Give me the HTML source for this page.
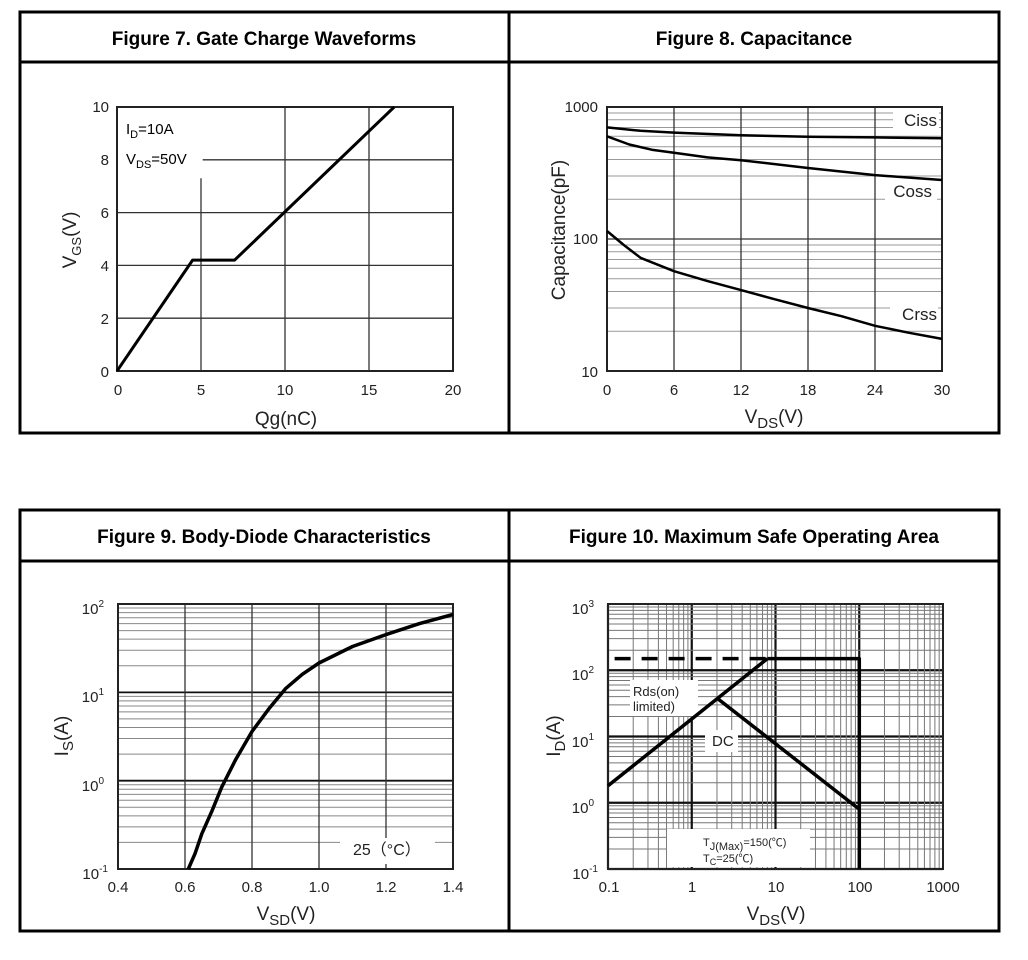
<!DOCTYPE html>
<html><head><meta charset="utf-8"><style>
html,body{margin:0;padding:0;background:#fff;}
svg{display:block;font-family:"Liberation Sans","Noto Sans CJK SC",sans-serif;}
.t{font-weight:bold;font-size:19px;text-anchor:middle;}
.tk{font-size:15px;fill:#222;}
.ax{font-size:19px;fill:#222;}
</style></head><body>
<svg id="s" width="1028" height="960" viewBox="0 0 1028 960" xmlns="http://www.w3.org/2000/svg">
<g id="grid"></g>
<!-- tables -->
<g fill="none" stroke="#000" stroke-width="3">
<rect x="20" y="12" width="979" height="421"/>
<line x1="20" y1="62" x2="999" y2="62"/>
<line x1="509" y1="12" x2="509" y2="433"/>
<rect x="20" y="510" width="979" height="421"/>
<line x1="20" y1="561" x2="999" y2="561"/>
<line x1="509" y1="510" x2="509" y2="931"/>
</g>
<text class="t" x="264" y="45">Figure 7. Gate Charge Waveforms</text>
<text class="t" x="754" y="45">Figure 8. Capacitance</text>
<text class="t" x="264" y="543">Figure 9. Body-Diode Characteristics</text>
<text class="t" x="754" y="543">Figure 10. Maximum Safe Operating Area</text>

<!-- chart1 labels -->
<g class="tk" text-anchor="end">
<text x="109" y="112">10</text><text x="109" y="165">8</text><text x="109" y="218">6</text>
<text x="109" y="271">4</text><text x="109" y="324">2</text><text x="109" y="377">0</text>
</g>
<g class="tk" text-anchor="middle">
<text x="118" y="395">0</text><text x="201" y="395">5</text><text x="285" y="395">10</text>
<text x="369" y="395">15</text><text x="453" y="395">20</text>
</g>
<text class="ax" x="286" y="425" text-anchor="middle">Qg(nC)</text>
<text class="ax" transform="translate(76,240) rotate(-90)" text-anchor="middle">V<tspan font-size="13" dy="5">GS</tspan><tspan dy="-5">(V)</tspan></text>
<text x="126" y="134" font-size="15">I<tspan font-size="11" dy="4">D</tspan><tspan dy="-4">=10A</tspan></text>
<text x="126" y="164" font-size="15">V<tspan font-size="11" dy="4">DS</tspan><tspan dy="-4">=50V</tspan></text>

<!-- chart2 labels -->
<g class="tk" text-anchor="end">
<text x="598" y="112">1000</text><text x="598" y="244">100</text><text x="598" y="377">10</text>
</g>
<g class="tk" text-anchor="middle">
<text x="607" y="395">0</text><text x="674" y="395">6</text><text x="741" y="395">12</text>
<text x="808" y="395">18</text><text x="875" y="395">24</text><text x="942" y="395">30</text>
</g>
<text class="ax" x="774" y="423" text-anchor="middle">V<tspan font-size="15" dy="5">DS</tspan><tspan dy="-5">(V)</tspan></text>
<text class="ax" transform="translate(565,230) rotate(-90)" text-anchor="middle">Capacitance(pF)</text>

<!-- chart3 labels -->
<g class="tk" text-anchor="end">
<text x="104" y="614">10<tspan font-size="10" dy="-7">2</tspan></text>
<text x="104" y="702">10<tspan font-size="10" dy="-7">1</tspan></text>
<text x="104" y="791">10<tspan font-size="10" dy="-7">0</tspan></text>
<text x="108" y="879">10<tspan font-size="10" dy="-7">-1</tspan></text>
</g>
<g class="tk" text-anchor="middle">
<text x="118" y="892">0.4</text><text x="185" y="892">0.6</text><text x="252" y="892">0.8</text>
<text x="319" y="892">1.0</text><text x="386" y="892">1.2</text><text x="453" y="892">1.4</text>
</g>
<text class="ax" x="286" y="920" text-anchor="middle">V<tspan font-size="15" dy="5">SD</tspan><tspan dy="-5">(V)</tspan></text>
<text class="ax" transform="translate(68,736) rotate(-90)" text-anchor="middle">I<tspan font-size="15" dy="5">S</tspan><tspan dy="-5">(A)</tspan></text>

<!-- chart4 labels -->
<g class="tk" text-anchor="end">
<text x="594" y="614">10<tspan font-size="10" dy="-7">3</tspan></text>
<text x="594" y="680">10<tspan font-size="10" dy="-7">2</tspan></text>
<text x="594" y="747">10<tspan font-size="10" dy="-7">1</tspan></text>
<text x="594" y="813">10<tspan font-size="10" dy="-7">0</tspan></text>
<text x="598" y="879">10<tspan font-size="10" dy="-7">-1</tspan></text>
</g>
<g class="tk" text-anchor="middle">
<text x="609" y="892">0.1</text><text x="692" y="892">1</text><text x="776" y="892">10</text>
<text x="860" y="892">100</text><text x="943" y="892">1000</text>
</g>
<text class="ax" x="776" y="920" text-anchor="middle">V<tspan font-size="15" dy="5">DS</tspan><tspan dy="-5">(V)</tspan></text>
<text class="ax" transform="translate(560,736) rotate(-90)" text-anchor="middle">I<tspan font-size="15" dy="5">D</tspan><tspan dy="-5">(A)</tspan></text>

<g id="fg"></g>
</svg>
<script>
var NS="http://www.w3.org/2000/svg",G=document.getElementById("grid"),F=document.getElementById("fg");
function el(p,t,a){var e=document.createElementNS(NS,t);for(var k in a)e.setAttribute(k,a[k]);p.appendChild(e);return e;}
function ln(p,x1,y1,x2,y2,c,w,d){var a={x1:x1,y1:y1,x2:x2,y2:y2,stroke:c,"stroke-width":w};if(d)a["stroke-dasharray"]=d;el(p,"line",a);}
function path(pts,w,d){var s="M"+pts.map(function(p){return p[0].toFixed(1)+","+p[1].toFixed(1)}).join("L");var a={d:s,fill:"none",stroke:"#000","stroke-width":w||3,"stroke-linejoin":"round"};if(d)a["stroke-dasharray"]=d;el(F,"path",a);}
function frame(x0,y0,x1,y1){el(F,"rect",{x:x0,y:y0,width:x1-x0,height:y1-y0,fill:"none",stroke:"#222","stroke-width":2});}
function wbox(x,y,w,h){el(F,"rect",{x:x,y:y,width:w,height:h,fill:"#fff"});}
function txt(x,y,s,fs,anchor){var t=el(F,"text",{x:x,y:y,"font-size":fs,fill:"#222","text-anchor":anchor||"start"});t.textContent=s;return t;}

// chart1: x 117..453 (0..20), y 371..107 (0..10)
(function(){var X=function(v){return 117+v*336/20},Y=function(v){return 371-v*26.4};
for(var v=5;v<20;v+=5)ln(G,X(v),v==5?Y(7.3):107,X(v),371,"#333",1.3);
for(var v=2;v<10;v+=2)ln(G,v==8?X(5.1):117,Y(v),453,Y(v),"#333",1.3);
frame(117,107,453,371);
path([[X(0),Y(0)],[X(4.5),Y(4.2)],[X(7),Y(4.2)],[X(16.5),Y(10)]],3);})();

// chart2: x 607..942 (0..30), log y 10..1000 371..107
(function(){var X=function(v){return 607+v*335/30},Y=function(v){return 371-(Math.log10(v)-1)*132};
for(var d=10;d<1000;d*=10)for(var m=1;m<10;m++){var y=Y(d*m);ln(G,607,y,942,y,m==1?"#555":"#999",m==1?1.5:1);}
for(var v=6;v<30;v+=6)ln(G,X(v),107,X(v),371,"#333",1.3);
frame(607,107,942,371);
function crv(p){path(p.map(function(q){return[X(q[0]),Y(q[1])]}),2.5);}
crv([[0,700],[3,660],[6,640],[12,610],[18,595],[24,588],[30,580]]);
crv([[0,600],[2,520],[4,475],[6,450],[9,415],[12,395],[18,345],[24,305],[30,280]]);
crv([[0,115],[1.5,90],[3,72],[6,57],[9,48],[12,41],[15,35],[18,30],[21,26],[24,22],[27,19.5],[30,17.5]]);
wbox(893,110,46,22);txt(937,126,"Ciss",17,"end");
wbox(885,181,52,22);txt(932,197,"Coss",17,"end");
wbox(890,304,48,22);txt(937,320,"Crss",17,"end");})();

// chart3: x 118..453 (0.4..1.4), log y 0.1..100 869..604
(function(){var X=function(v){return 118+(v-0.4)*335},Y=function(v){return 869-(Math.log10(v)+1)*88.33};
for(var d=0.1;d<99;d*=10)for(var m=1;m<10;m++){var y=Y(d*m);ln(G,118,y,453,y,m==1?"#111":"#888",m==1?1.8:1);}
for(var v=0.6;v<1.39;v+=0.2)ln(G,X(v),604,X(v),869,"#333",1.3);
wbox(340,838,95,26);txt(353,855,"25（°C）",16);
frame(118,604,453,869);
var p=[[0.61,0.1],[0.63,0.15],[0.65,0.25],[0.68,0.45],[0.71,0.85],[0.75,1.7],[0.8,3.6],[0.85,6.5],[0.9,11],[0.95,16],[1.0,21.5],[1.1,33],[1.2,45],[1.3,60],[1.4,76]];
path(p.map(function(q){return[X(q[0]),Y(q[1])]}),3.5);})();

// chart4: log x 0.1..1000 608..943, log y 0.1..1000 869..604
(function(){var X=function(v){return 608+(Math.log10(v)+1)*83.75},Y=function(v){return 869-(Math.log10(v)+1)*66.25};
for(var d=0.1;d<999;d*=10)for(var m=1;m<10;m++){var y=Y(d*m),x=X(d*m);
 ln(G,608,y,943,y,m==1?"#111":"#777",m==1?2.2:1);ln(G,x,604,x,869,m==1?"#111":"#777",m==1?2.2:1);}
wbox(630,680,68,36);txt(633,696,"Rds(on)",13);txt(633,711,"limited)",13);
wbox(705,730,33,22);txt(712,746,"DC",15);
wbox(667,829,143,38);
var t=txt(703,846,"T",11);var ts=el(t,"tspan",{dy:4});ts.textContent="J(Max)";var ts2=el(t,"tspan",{dy:-4});ts2.textContent="=150(℃)";
var u=txt(703,862,"T",11);var us=el(u,"tspan",{dy:3,"font-size":9});us.textContent="C";var us2=el(u,"tspan",{dy:-3});us2.textContent="=25(℃)";
frame(608,604,943,869);
path([[X(0.12),Y(150)],[X(8),Y(150)]],3.5,"16,11");
path([[X(8),Y(150)],[X(100),Y(150)],[X(100),Y(0.1)]],3.5);
path([[X(0.1),Y(1.8)],[X(8),Y(150)]],3.5);
path([[X(2),Y(38)],[X(100),Y(0.8)]],3.5);})();
</script>
</body></html>
